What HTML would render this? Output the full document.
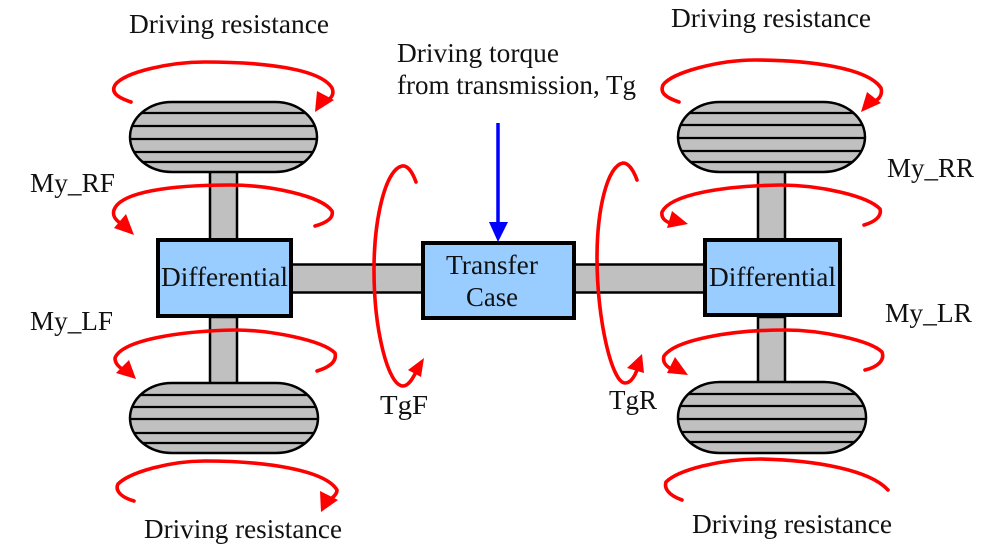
<!DOCTYPE html>
<html><head><meta charset="utf-8"><style>
html,body{margin:0;padding:0;background:#fff}
svg{display:block}
text{font-family:"Liberation Serif",serif;font-size:27px;fill:#111}
.g{fill:#c0c0c0;stroke:#000;stroke-width:2.5}
.b{fill:#99ccff;stroke:#000;stroke-width:4}
.t{stroke:#000;stroke-width:2.2;fill:none}
.r{fill:none;stroke:#f00;stroke-width:3.6;stroke-linecap:round}
.h{fill:#f00}
</style></head><body>
<svg width="1001" height="547" viewBox="0 0 1001 547" xmlns="http://www.w3.org/2000/svg">
<defs>
<clipPath id="c1"><rect x="130" y="102" width="187" height="70" rx="42" ry="35"/></clipPath>
<clipPath id="c2"><rect x="130" y="383" width="188" height="70" rx="42" ry="35"/></clipPath>
<clipPath id="c3"><rect x="678" y="102" width="187" height="70" rx="42" ry="35"/></clipPath>
<clipPath id="c4"><rect x="678" y="382" width="188" height="71" rx="42" ry="35"/></clipPath>
</defs>
<!-- shafts -->
<rect class="g" x="210" y="171" width="27" height="69"/>
<rect class="g" x="210" y="317" width="27" height="67"/>
<rect class="g" x="758" y="171" width="27" height="69"/>
<rect class="g" x="758" y="317" width="27" height="66"/>
<rect class="g" x="290" y="264.500" width="134" height="28"/>
<rect class="g" x="573" y="264.500" width="134" height="28"/>
<!-- wheels -->
<g>
<rect class="g" x="130" y="102" width="187" height="70" rx="42" ry="35"/>
<path class="t" clip-path="url(#c1)" d="M130 113H317M130 126H317M130 139H317M130 152H317M130 162H317"/>
</g>
<g>
<rect class="g" x="130" y="383" width="188" height="70" rx="42" ry="35"/>
<path class="t" clip-path="url(#c2)" d="M130 395H318M130 407H318M130 419H318M130 433H318M130 443H318"/>
</g>
<g>
<rect class="g" x="678" y="102" width="187" height="70" rx="42" ry="35"/>
<path class="t" clip-path="url(#c3)" d="M678 113H865M678 125H865M678 138H865M678 151H865M678 162H865"/>
</g>
<g>
<rect class="g" x="678" y="382" width="188" height="71" rx="42" ry="35"/>
<path class="t" clip-path="url(#c4)" d="M678 394H866M678 406H866M678 419H866M678 432H866M678 442H866"/>
</g>
<!-- boxes -->
<rect class="b" x="158" y="240" width="133" height="76"/>
<rect class="b" x="423" y="243" width="151" height="75"/>
<rect class="b" x="705" y="240" width="135" height="75"/>
<!-- red arcs -->
<path class="r" d="M131 102C116 97 111 92 115 85C124 72 170 62 205 62C260 62 320 68 332 88C335 95 330 100 324 102"/>
<polygon class="h" points="315,112 317,91 334,100"/>
<path class="r" d="M315 226C326 223 334 218 332 211C322 196 270 185 230 185C170 185 120 192 114 210C112 216 116 220 120 223"/>
<polygon class="h" points="134,235 114,228 126,214"/>
<path class="r" d="M317 371C330 367 337 361 335 353C322 340 270 330 235 330C180 331 122 340 115 358C115 363 118 366 122 369"/>
<polygon class="h" points="136,379 116,373 129,360"/>
<path class="r" d="M134 501C120 497 115 490 118 484C130 472 170 461 205 461C265 461 325 470 337 490C337 494 334 497 329 500"/>
<polygon class="h" points="321,512 320,491 338,500"/>
<path class="r" d="M679 102C664 97 660 92 663 85C672 72 720 60 755 60C810 60 868 68 881 88C883 96 878 100 872 103"/>
<polygon class="h" points="861,112 867,92 881,103"/>
<path class="r" d="M864 225C875 222 882 216 880 209C868 196 820 185 780 185C720 186 670 195 662 212C661 218 665 221 670 223"/>
<polygon class="h" points="688,224 667,228 672,211"/>
<path class="r" d="M865 370C878 367 885 360 882 352C870 340 820 330 785 330C730 330 675 340 664 356C662 363 667 367 673 370"/>
<polygon class="h" points="688,375 667,373 675,357"/>
<path class="r" d="M682 500C668 495 664 488 666 482C678 470 720 459 760 459C815 460 870 470 888 490"/>
<path class="r" d="M416 182C412 171 407 165 402 166C385 170 374 220 374 270C374 330 388 386 403 386C408 386 412 380 416 372"/>
<polygon class="h" points="424,358 408,370 421,377"/>
<path class="r" d="M637 180C633 169 628 163 623 163C607 166 597 210 597 258C597 320 612 383 625 383C630 383 634 378 637 370"/>
<polygon class="h" points="642,354 627,368 644,373"/>
<!-- blue arrow -->
<line x1="498" y1="123" x2="498" y2="224" stroke="#00f" stroke-width="3.500"/>
<polygon fill="#00f" points="489,222 508,222 498,242"/>
<!-- labels -->
<text x="129" y="33" textLength="200" lengthAdjust="spacingAndGlyphs">Driving resistance</text>
<text x="671" y="27" textLength="200" lengthAdjust="spacingAndGlyphs">Driving resistance</text>
<text x="144" y="538" textLength="198" lengthAdjust="spacingAndGlyphs">Driving resistance</text>
<text x="692" y="533" textLength="200" lengthAdjust="spacingAndGlyphs">Driving resistance</text>
<text x="397" y="62" textLength="162" lengthAdjust="spacingAndGlyphs">Driving torque</text>
<text x="397" y="94" textLength="239" lengthAdjust="spacingAndGlyphs">from transmission, Tg</text>
<text x="30" y="192" textLength="85" lengthAdjust="spacingAndGlyphs">My_RF</text>
<text x="30" y="330" textLength="83" lengthAdjust="spacingAndGlyphs">My_LF</text>
<text x="887" y="177" textLength="87" lengthAdjust="spacingAndGlyphs">My_RR</text>
<text x="885" y="322" textLength="87" lengthAdjust="spacingAndGlyphs">My_LR</text>
<text x="380" y="414" textLength="48" lengthAdjust="spacingAndGlyphs">TgF</text>
<text x="609" y="409" textLength="48" lengthAdjust="spacingAndGlyphs">TgR</text>
<text x="161" y="286" textLength="127" lengthAdjust="spacingAndGlyphs">Differential</text>
<text x="709" y="286" textLength="127" lengthAdjust="spacingAndGlyphs">Differential</text>
<text x="446" y="274" textLength="92" lengthAdjust="spacingAndGlyphs">Transfer</text>
<text x="466" y="306" textLength="52" lengthAdjust="spacingAndGlyphs">Case</text>
</svg>
</body></html>
